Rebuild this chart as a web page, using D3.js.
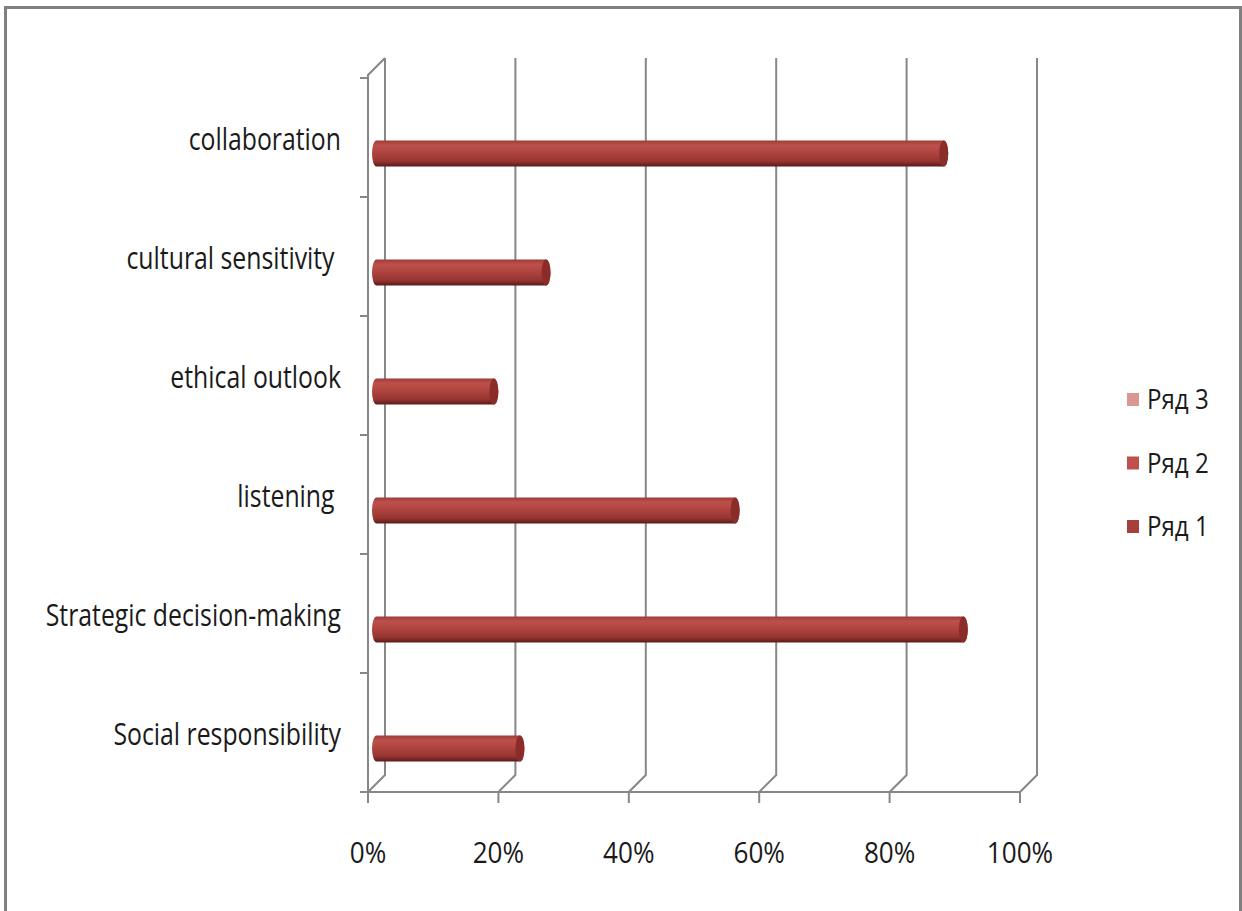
<!DOCTYPE html>
<html>
<head>
<meta charset="utf-8">
<script src="https://cdn.jsdelivr.net/npm/d3@7"></script>
<style>
  body { margin: 0; background: #fff; }
  svg text { font-family: "Open Sans", "DejaVu Sans", sans-serif; fill: #1a1a1a; white-space: pre; }
</style>
</head>
<body>
<div id="chart"></div>
<script>
// chart data
var categories = ["collaboration", "cultural sensitivity ", "ethical outlook", "listening ", "Strategic decision-making", "Social responsibility"];
var series1 = [0.87, 0.26, 0.18, 0.55, 0.90, 0.22];
var seriesNames = ["Ряд 3", "Ряд 2", "Ряд 1"];
var seriesColors = ["#d99694", "#c0504d", "#a5403d"];
var xTicks = [0, 0.2, 0.4, 0.6, 0.8, 1];

var W = 1242, H = 911;
var depth = 17;   // 3d depth offset of the back wall

var svg = d3.select("#chart").append("svg")
    .attr("width", W)
    .attr("height", H);

var defs = svg.append("defs");
var grad = defs.append("linearGradient")
    .attr("id", "cyl")
    .attr("x1", 0).attr("y1", 0).attr("x2", 0).attr("y2", 1);
grad.append("stop").attr("offset", "0%").attr("stop-color", "#9e3a37");
grad.append("stop").attr("offset", "18%").attr("stop-color", "#bd504c");
grad.append("stop").attr("offset", "45%").attr("stop-color", "#b0453f");
grad.append("stop").attr("offset", "80%").attr("stop-color", "#963532");
grad.append("stop").attr("offset", "100%").attr("stop-color", "#5a1b19");

// outer frame
svg.append("rect")
    .attr("x", 5.5).attr("y", 7.5)
    .attr("width", 1235).attr("height", 940)
    .attr("fill", "none")
    .attr("stroke", "#808080")
    .attr("stroke-width", 3);

var x = d3.scaleLinear().domain([0, 1]).range([368, 1020]);
var y = d3.scaleBand().domain(categories).range([78, 792]);

var floorY = y.range()[1];
var topY = y.range()[0];
var gridColor = "#878787";

// back wall gridlines + floor connectors
var grid = svg.append("g").attr("class", "grid")
    .attr("stroke", gridColor)
    .attr("stroke-width", 2)
    .attr("fill", "none");

grid.selectAll("path.g")
    .data(xTicks)
    .enter()
    .append("path")
    .attr("class", "g")
    .attr("d", d => "M" + (x(d) + depth) + "," + (topY - depth - 3) +
        "V" + (floorY - depth) + "L" + x(d) + "," + floorY);

// left wall
grid.append("path")
    .attr("d", "M" + x(0) + "," + floorY + "V" + (topY - 3) +
        "L" + (x(0) + depth) + "," + (topY - depth - 3));

// floor front edge
grid.append("line")
    .attr("x1", x(0) - 8).attr("x2", x(1))
    .attr("y1", floorY).attr("y2", floorY);

// category ticks on left
var yTickVals = categories.map(c => y(c)).concat([floorY]);
grid.selectAll("line.yt")
    .data(yTickVals)
    .enter()
    .append("line")
    .attr("class", "yt")
    .attr("x1", x(0) - 8).attr("x2", x(0))
    .attr("y1", d => d).attr("y2", d => d);

// x ticks at floor
grid.selectAll("line.xt")
    .data(xTicks)
    .enter()
    .append("line")
    .attr("class", "xt")
    .attr("x1", d => x(d)).attr("x2", d => x(d))
    .attr("y1", floorY).attr("y2", floorY + 11);

// x tick labels
svg.append("g")
    .selectAll("text")
    .data(xTicks)
    .enter()
    .append("text")
    .attr("x", d => x(d))
    .attr("y", floorY + 71)
    .attr("text-anchor", "middle")
    .style("font-size", "30px")
    .text(d => d3.format(".0%")(d))
    .attr("textLength", function() { return this.getComputedTextLength() * 0.87; })
    .attr("lengthAdjust", "spacingAndGlyphs");

// category labels
svg.append("g")
    .selectAll("text")
    .data(categories)
    .enter()
    .append("text")
    .attr("x", 341)
    .attr("y", d => y(d) + y.bandwidth() / 2 + 12)
    .attr("text-anchor", "end")
    .style("font-size", "31px")
    .text(d => d)
    .attr("textLength", function() { return this.getComputedTextLength() * 0.80; })
    .attr("lengthAdjust", "spacingAndGlyphs");

// cylinders
var rx = 4.5, ry = 13;
var mid = depth / 2;
var bars = svg.append("g").attr("class", "bars")
    .selectAll("g")
    .data(categories.map((c, i) => ({ cat: c, v: series1[i] })))
    .enter()
    .append("g");

bars.append("path")
    .attr("fill", "url(#cyl)")
    .attr("d", function(d) {
        var x0 = x(0) + mid, x1 = x(d.v) + mid;
        var cy = y(d.cat) + y.bandwidth() / 2 + 16;
        return "M" + x1 + "," + (cy - ry) +
            "H" + x0 +
            "A" + rx + "," + ry + " 0 0 0 " + x0 + "," + (cy + ry) +
            "H" + x1 +
            "A" + rx + "," + ry + " 0 0 0 " + x1 + "," + (cy - ry) + "Z";
    });

bars.append("ellipse")
    .attr("cx", d => x(d.v) + mid)
    .attr("cy", d => y(d.cat) + y.bandwidth() / 2 + 16)
    .attr("rx", rx)
    .attr("ry", ry)
    .attr("fill", "#8a2d2a");

// legend
var legend = svg.append("g")
    .selectAll("g")
    .data(seriesNames)
    .enter()
    .append("g")
    .attr("transform", (d, i) => "translate(1127," + (400 + i * 63.5) + ")");

legend.append("rect")
    .attr("x", 0).attr("y", -7)
    .attr("width", 12).attr("height", 13)
    .attr("fill", (d, i) => seriesColors[i]);

legend.append("text")
    .attr("x", 20)
    .attr("y", 9)
    .style("font-size", "28px")
    .text(d => d)
    .attr("textLength", function() { return this.getComputedTextLength() * 0.86; })
    .attr("lengthAdjust", "spacingAndGlyphs");
</script>
</body>
</html>
